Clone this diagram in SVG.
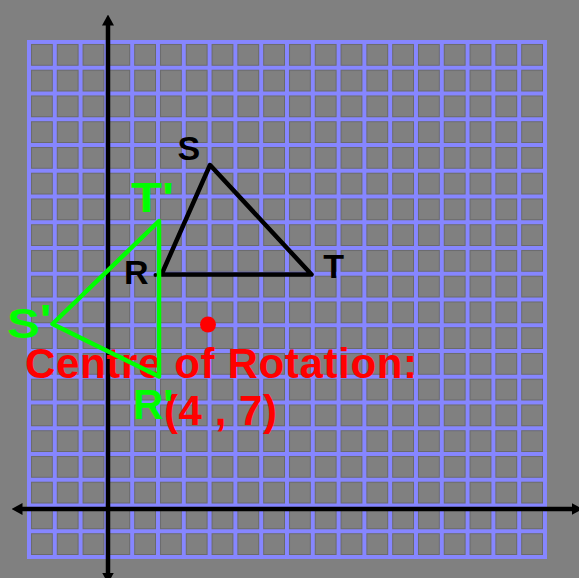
<svg xmlns="http://www.w3.org/2000/svg" width="579" height="578" viewBox="0 0 579 578">
  <style>
    .blk { font-family: "Liberation Sans", Arial, sans-serif; font-weight: bold; font-size: 34px; fill: #000; }
    .grn { font-family: "Liberation Sans", Arial, sans-serif; font-weight: bold; font-size: 42px; fill: #00ff00; }
    .red { font-family: "Liberation Sans", Arial, sans-serif; font-weight: bold; font-size: 42px; fill: #ff0000; }
    .axis { stroke: #000; stroke-width: 4.5; fill: none; marker-start: url(#arr); marker-end: url(#arr); }
    .tri { fill: none; stroke-width: 4.5; stroke-linejoin: round; stroke-linecap: round; }
  </style>
  <defs>
    <pattern id="cells" patternUnits="userSpaceOnUse" x="27" y="40" width="25.8" height="25.75">
      <rect x="4.5" y="4.5" width="20.8" height="20.75" fill="#808080" stroke="#6a6a6a" stroke-width="1"/>
    </pattern>
    <marker id="arr" viewBox="0 0 11 12" refX="0.5" refY="6" markerWidth="11" markerHeight="12" markerUnits="userSpaceOnUse" orient="auto-start-reverse">
      <path d="M0,0 L11,6 L0,12 z" fill="#000"/>
    </marker>
  </defs>
  <rect width="579" height="578" fill="#808080"/>
  <g id="grid">
    <rect x="27" y="40" width="520" height="519" fill="#8686ff"/>
    <rect x="27" y="40" width="520" height="519" fill="url(#cells)"/>
  </g>
  <g id="axes">
    <line class="axis" x1="22" y1="509" x2="572" y2="509"/>
    <line class="axis" x1="108" y1="573" x2="108" y2="25"/>
  </g>
  <g id="caption">
    <text class="red" x="25" y="377.5" textLength="392" lengthAdjust="spacing">Centre of Rotation:</text>
    <text class="red" x="164" y="425" textLength="113" lengthAdjust="spacing">(4 , 7)</text>
  </g>
  <g id="triangle-RST">
    <polygon class="tri" stroke="#000" points="161.5,274.5 210,165 311.5,274.5"/>
    <circle cx="155.5" cy="275" r="2" fill="#000"/>
    <text class="blk" x="177.6" y="159.5">S</text>
    <text class="blk" x="124" y="284">R</text>
    <text class="blk" x="323.3" y="278.3">T</text>
  </g>
  <g id="triangle-image">
    <polygon class="tri" stroke="#00ff00" stroke-width="4" points="159,221 52.5,324 159,376.5"/>
    <text class="grn" x="131" y="212" textLength="43" lengthAdjust="spacingAndGlyphs">T'</text>
    <text class="grn" x="7" y="338" textLength="44.5" lengthAdjust="spacingAndGlyphs">S<tspan dy="-4">'</tspan></text>
    <text class="grn" x="133" y="419">R'</text>
  </g>
  <g id="centre">
    <circle cx="208" cy="324.5" r="8" fill="#ff0000"/>
  </g>
</svg>
